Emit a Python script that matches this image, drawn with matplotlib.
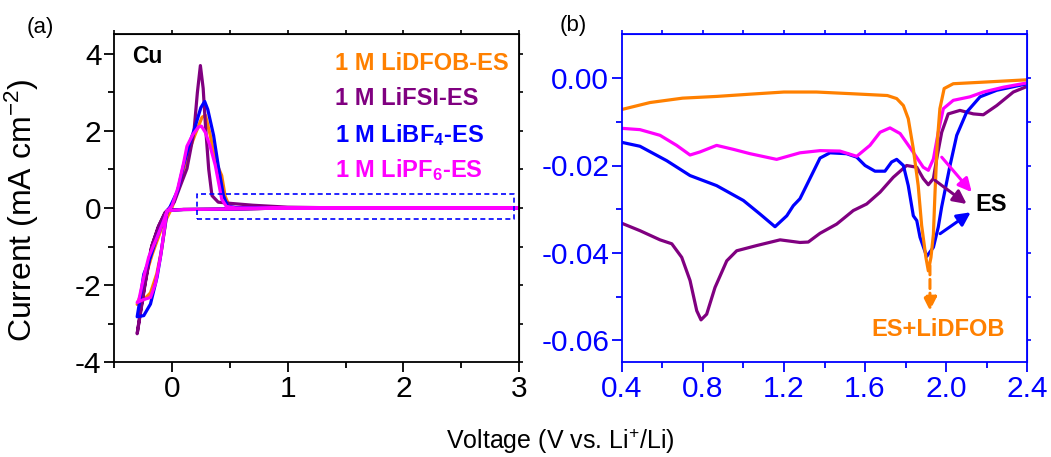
import matplotlib
matplotlib.use("Agg")
import matplotlib.pyplot as plt
from matplotlib.ticker import MultipleLocator, FixedLocator, FormatStrFormatter

plt.rcParams['font.family'] = ['Liberation Sans', 'DejaVu Sans']
plt.rcParams['mathtext.fontset'] = 'custom'
plt.rcParams['mathtext.rm'] = 'Liberation Sans'
plt.rcParams['mathtext.it'] = 'Liberation Sans:italic'
plt.rcParams['mathtext.bf'] = 'Liberation Sans:bold'
plt.rcParams['axes.unicode_minus'] = False

# ---------------- colours ----------------
C_DFOB = '#FF8000'
C_FSI = '#800080'
C_BF4 = '#0000FF'
C_PF6 = '#FF00FF'

# ---------------- panel (a): CV on Cu ----------------
# cathodic sweep (3.0 V -> -0.3 V)
dfob_cat_v = [3.0, 1.0, 0.5, 0.1, -0.03, -0.06, -0.11, -0.17, -0.23, -0.27, -0.30]
dfob_cat_i = [0.0, 0.0, -0.03, -0.04, -0.05, -0.25, -0.70, -1.20, -1.80, -2.25, -2.50]
fsi_cat_v = [3.0, 1.0, 0.5, 0.1, -0.03, -0.06, -0.11, -0.17, -0.23, -0.27, -0.30]
fsi_cat_i = [0.0, 0.0, -0.03, -0.04, -0.05, -0.15, -0.45, -0.95, -1.95, -2.70, -3.26]
bf4_cat_v = [3.0, 1.0, 0.5, 0.1, -0.04, -0.07, -0.13, -0.185, -0.243, -0.277, -0.30]
bf4_cat_i = [0.0, 0.0, -0.03, -0.04, -0.07, -0.32, -0.76, -1.27, -1.72, -2.40, -2.82]
pf6_cat_v = [3.0, 1.0, 0.5, 0.1, -0.04, -0.07, -0.128, -0.20, -0.243, -0.286, -0.30]
pf6_cat_i = [0.0, 0.0, -0.03, -0.04, -0.07, -0.32, -0.755, -1.27, -1.79, -2.39, -2.45]
# anodic sweep (-0.3 V -> 3.0 V)
dfob_an_v = [-0.30, -0.25, -0.185, -0.13, -0.09, -0.05, 0.0, 0.05, 0.10, 0.15, 0.20, 0.26, 0.29, 0.33, 0.37, 0.40, 0.43, 0.46, 0.50, 0.60, 3.0]
dfob_an_i = [-2.50, -2.40, -2.20, -1.70, -1.10, -0.30, 0.0, 0.45, 1.00, 1.50, 1.90, 2.35, 2.40, 1.90, 1.30, 1.05, 0.84, 0.30, 0.02, 0.0, 0.0]
fsi_an_v = [-0.30, -0.28, -0.24, -0.18, -0.12, -0.06, -0.02, 0.02, 0.07, 0.13, 0.19, 0.22, 0.246, 0.27, 0.29, 0.318, 0.346, 0.40, 0.50, 0.70, 1.0, 1.5, 3.0]
fsi_an_i = [-3.26, -2.85, -2.10, -1.05, -0.50, -0.12, 0.0, 0.15, 0.55, 1.02, 1.96, 2.99, 3.69, 3.10, 2.13, 1.00, 0.32, 0.15, 0.12, 0.07, 0.02, 0.0, 0.0]
bf4_an_v = [-0.30, -0.243, -0.185, -0.128, -0.099, -0.065, -0.04, -0.02, 0.05, 0.10, 0.15, 0.20, 0.25, 0.283, 0.31, 0.36, 0.40, 0.445, 0.48, 0.55, 1.0, 3.0]
bf4_an_i = [-2.82, -2.79, -2.49, -1.79, -1.27, -0.58, -0.065, 0.0, 0.45, 1.10, 1.65, 2.10, 2.60, 2.76, 2.55, 1.88, 1.10, 0.32, 0.05, 0.01, 0.0, 0.0]
pf6_an_v = [-0.30, -0.25, -0.185, -0.142, -0.099, -0.07, -0.045, 0.0, 0.05, 0.10, 0.13, 0.18, 0.23, 0.255, 0.29, 0.33, 0.375, 0.43, 0.47, 0.55, 3.0]
pf6_an_i = [-2.45, -2.38, -2.32, -1.96, -1.27, -0.67, -0.10, 0.05, 0.50, 1.15, 1.60, 1.90, 2.10, 2.12, 1.95, 1.60, 1.10, 0.23, 0.04, 0.0, 0.0]

labels_a = ['1 M LiDFOB-ES', '1 M LiFSI-ES', r'1 M LiBF$_\mathbf{4}$-ES', r'1 M LiPF$_\mathbf{6}$-ES']

# ---------------- panel (b): zoom 0.4-2.4 V ----------------
dfob_b_v = [0.40, 0.54, 0.70, 0.87, 1.03, 1.20, 1.36, 1.54, 1.71, 1.756, 1.789, 1.813, 1.838, 1.862, 1.879, 1.90, 1.912, 1.925, 1.937, 1.945, 1.956, 1.969, 1.99, 2.035, 2.20, 2.40]
dfob_b_i = [-0.0072, -0.0056, -0.0046, -0.0042, -0.0037, -0.0032, -0.0032, -0.0036, -0.0040, -0.0047, -0.0063, -0.0093, -0.0162, -0.0246, -0.0337, -0.0410, -0.0441, -0.0410, -0.0357, -0.0261, -0.0147, -0.0070, -0.0024, -0.0013, -0.0009, -0.0004]
pf6_b_v = [0.40, 0.49, 0.589, 0.671, 0.737, 0.786, 0.868, 0.95, 1.033, 1.164, 1.279, 1.378, 1.476, 1.559, 1.624, 1.674, 1.723, 1.773, 1.838, 1.887, 1.912, 1.937, 1.961, 1.986, 2.035, 2.117, 2.183, 2.282, 2.40]
pf6_b_i = [-0.0115, -0.0118, -0.0131, -0.0154, -0.0176, -0.0169, -0.0154, -0.0163, -0.0173, -0.0186, -0.0171, -0.0166, -0.0167, -0.0179, -0.0154, -0.0124, -0.0114, -0.0127, -0.0170, -0.0204, -0.0211, -0.0185, -0.0124, -0.0070, -0.0051, -0.0043, -0.0032, -0.0021, -0.0011]
bf4_b_v = [0.40, 0.49, 0.622, 0.737, 0.868, 1.00, 1.082, 1.156, 1.214, 1.246, 1.279, 1.328, 1.378, 1.427, 1.509, 1.559, 1.60, 1.649, 1.698, 1.731, 1.756, 1.789, 1.813, 1.838, 1.855, 1.871, 1.904, 1.937, 1.961, 1.978, 2.019, 2.052, 2.101, 2.167, 2.249, 2.40]
bf4_b_i = [-0.0147, -0.0156, -0.0189, -0.0223, -0.0246, -0.0280, -0.0311, -0.0340, -0.0315, -0.0292, -0.0276, -0.0230, -0.0183, -0.0171, -0.0173, -0.0181, -0.0200, -0.0213, -0.0213, -0.0192, -0.0186, -0.0200, -0.0246, -0.0315, -0.0326, -0.0364, -0.0408, -0.0387, -0.0341, -0.0294, -0.0200, -0.0131, -0.0078, -0.0043, -0.0028, -0.0013]
fsi_b_v = [0.40, 0.49, 0.589, 0.647, 0.696, 0.737, 0.77, 0.791, 0.819, 0.86, 0.918, 0.967, 1.066, 1.181, 1.279, 1.32, 1.378, 1.46, 1.542, 1.608, 1.674, 1.739, 1.805, 1.855, 1.887, 1.912, 1.937, 1.953, 1.978, 2.01, 2.068, 2.134, 2.183, 2.249, 2.331, 2.40]
fsi_b_i = [-0.0332, -0.0349, -0.0370, -0.0379, -0.0410, -0.0463, -0.0532, -0.0553, -0.0540, -0.0479, -0.0418, -0.0395, -0.0383, -0.0370, -0.0376, -0.0375, -0.0355, -0.0334, -0.0303, -0.0288, -0.0261, -0.0227, -0.0200, -0.0204, -0.0230, -0.0244, -0.0230, -0.0185, -0.0124, -0.0082, -0.0074, -0.0082, -0.0084, -0.0063, -0.0032, -0.0019]

# zoom window drawn in panel (a)
zoom_box = (0.217, -0.28, 2.953, 0.367)  # x0, y0, x1, y1

# ---------------- figure ----------------
W, H = 1051, 457
fig = plt.figure(figsize=(W / 100, H / 100), dpi=100)

def frac_box(l, t, r, b):
    return [l / W, 1 - b / H, (r - l) / W, (b - t) / H]

ax_a = fig.add_axes(frac_box(114, 34.3, 519.3, 362.3))
ax_b = fig.add_axes(frac_box(621.7, 34.3, 1027.3, 362.3))

LW = 2.3
TICK_FS = 21.5

# panel (a)
for cv, ci, av, ai, col in [
    (dfob_cat_v, dfob_cat_i, dfob_an_v, dfob_an_i, C_DFOB),
    (fsi_cat_v, fsi_cat_i, fsi_an_v, fsi_an_i, C_FSI),
    (bf4_cat_v, bf4_cat_i, bf4_an_v, bf4_an_i, C_BF4),
    (pf6_cat_v, pf6_cat_i, pf6_an_v, pf6_an_i, C_PF6),
]:
    ax_a.plot(cv + av, ci + ai, color=col, lw=LW, solid_joinstyle='round')

x0, y0, x1, y1 = zoom_box
ax_a.plot([x0, x1, x1, x0, x0], [y0, y0, y1, y1, y0], color=C_BF4, lw=1.2,
          ls=(0, (3, 2)))

ax_a.set_xlim(-0.5, 3.0)
ax_a.set_ylim(-4.0, 4.5)
ax_a.xaxis.set_major_locator(FixedLocator([0, 1, 2, 3]))
ax_a.xaxis.set_minor_locator(FixedLocator([-0.5, 0.5, 1.5, 2.5]))
ax_a.yaxis.set_major_locator(FixedLocator([-4, -2, 0, 2, 4]))
ax_a.yaxis.set_minor_locator(FixedLocator([-3, -1, 1, 3]))
for sp in ax_a.spines.values():
    sp.set_linewidth(1.3)
    sp.set_color('black')
ax_a.tick_params(which='major', direction='out', length=7, width=1.3, labelsize=TICK_FS, pad=2)
ax_a.tick_params(which='minor', direction='out', length=4, width=1.3)

sec = ax_a.secondary_xaxis('top')
sec.set_xticks([-0.5, 0, 0.5, 1, 1.5, 2, 2.5, 3])
sec.tick_params(direction='out', length=3, width=1.2, labeltop=False)
sec = ax_a.secondary_yaxis('right')
sec.set_yticks([-4, -3, -2, -1, 0, 1, 2, 3, 4])
sec.tick_params(direction='out', length=3, width=1.2, labelright=False)

ax_a.text(0.0437, 0.912, 'Cu', transform=ax_a.transAxes, fontsize=16.5,
          fontweight='bold', color='black', va='baseline', ha='left')
for lab, col, yb in zip(labels_a, [C_DFOB, C_FSI, C_BF4, C_PF6],
                        [0.891, 0.785, 0.672, 0.565]):
    ax_a.text(0.545, yb, lab, transform=ax_a.transAxes, fontsize=17,
              fontweight='bold', color=col, va='baseline', ha='left')

# panel (b)
for v, i, col in [
    (fsi_b_v, fsi_b_i, C_FSI),
    (bf4_b_v, bf4_b_i, C_BF4),
    (pf6_b_v, pf6_b_i, C_PF6),
    (dfob_b_v, dfob_b_i, C_DFOB),
]:
    ax_b.plot(v, i, color=col, lw=LW, solid_joinstyle='round')

ax_b.set_xlim(0.4, 2.4)
ax_b.set_ylim(-0.065, 0.01)
ax_b.xaxis.set_major_locator(MultipleLocator(0.4))
ax_b.xaxis.set_minor_locator(MultipleLocator(0.2))
ax_b.xaxis.set_major_formatter(FormatStrFormatter('%.1f'))
ax_b.yaxis.set_major_locator(FixedLocator([-0.06, -0.04, -0.02, 0.0]))
ax_b.yaxis.set_minor_locator(FixedLocator([-0.05, -0.03, -0.01]))
ax_b.yaxis.set_major_formatter(FormatStrFormatter('%.2f'))
for sp in ax_b.spines.values():
    sp.set_linewidth(1.3)
    sp.set_color(C_BF4)
ax_b.tick_params(which='major', direction='out', length=7, width=1.3,
                 labelsize=TICK_FS, color=C_BF4, labelcolor=C_BF4, pad=2)
ax_b.tick_params(which='minor', direction='out', length=4, width=1.3, color=C_BF4)
sec = ax_b.secondary_xaxis('top')
sec.set_xticks([0.4, 0.6, 0.8, 1.0, 1.2, 1.4, 1.6, 1.8, 2.0, 2.2, 2.4])
sec.tick_params(direction='out', length=3, width=1.2, labeltop=False, color=C_BF4)
sec.spines['top'].set_color(C_BF4)
sec = ax_b.secondary_yaxis('right')
sec.set_yticks([-0.06, -0.05, -0.04, -0.03, -0.02, -0.01, 0.0])
sec.tick_params(direction='out', length=3, width=1.2, labelright=False, color=C_BF4)
sec.spines['right'].set_color(C_BF4)

arrow_kw = dict(arrowstyle='-|>', lw=2.2, mutation_scale=20, shrinkA=0, shrinkB=0)
ax_b.annotate('', xy=(2.126, -0.0261), xytext=(1.978, -0.0181),
              arrowprops=dict(color=C_PF6, **arrow_kw))
ax_b.annotate('', xy=(2.101, -0.0288), xytext=(1.945, -0.0234),
              arrowprops=dict(color=C_FSI, **arrow_kw))
ax_b.annotate('', xy=(2.121, -0.0307), xytext=(1.970, -0.0356),
              arrowprops=dict(color=C_BF4, **arrow_kw))
ax_b.annotate('', xy=(1.92, -0.0532), xytext=(1.92, -0.0429),
              arrowprops=dict(color=C_DFOB, linestyle=(0, (3, 1.5)), **arrow_kw))
ax_b.text(2.142, -0.0303, 'ES', fontsize=17, fontweight='bold', color='black',
          ha='left', va='baseline')
ax_b.text(1.96, -0.0589, 'ES+LiDFOB', fontsize=17, fontweight='bold', color=C_DFOB,
          ha='center', va='baseline')

# labels
fig.text(40 / W, 1 - 27 / H, '(a)', fontsize=16, ha='center', va='center')
fig.text(573 / W, 1 - 25 / H, '(b)', fontsize=16, ha='center', va='center')
fig.text(22 / W, 1 - 210 / H, r'Current (mA cm$^{-2}$)', fontsize=23, rotation=90,
         ha='center', va='center')
fig.text(560 / W, 1 - 441 / H, r'Voltage (V vs. Li$^{+}$/Li)', fontsize=18,
         ha='center', va='center')

fig.savefig('out.png', dpi=100)
